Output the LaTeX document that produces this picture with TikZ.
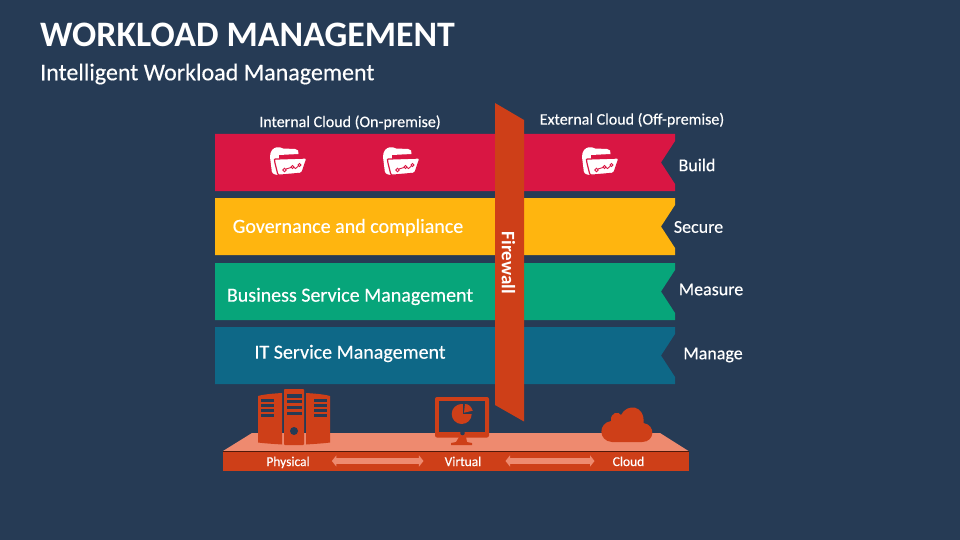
\documentclass[tikz,border=0pt]{standalone}
\usepackage{fontspec}
\setmainfont{Carlito}
\newfontfamily\semi[FakeBold=0.35]{Carlito}
\usetikzlibrary{arrows.meta}
\definecolor{bgc}{HTML}{263B55}
\definecolor{redc}{HTML}{D91643}
\definecolor{yelc}{HTML}{FFB50F}
\definecolor{grnc}{HTML}{07A57A}
\definecolor{bluc}{HTML}{0E6887}
\definecolor{orac}{HTML}{CE3F18}
\definecolor{salc}{HTML}{EE8A6F}
\tikzset{
  x=1pt,y=-1pt,
  lbl/.style={text=white,inner sep=0pt,font=\fontsize{#1}{#1}\selectfont\semi},
  blbl/.style={text=white,inner sep=0pt,font=\fontsize{#1}{#1}\selectfont\bfseries},
  link/.style={draw=salc,line width=5.4pt,{Triangle[width=11pt,length=4.5pt]}-{Triangle[width=11pt,length=4.5pt]}},
  pics/folder/.style={code={
    \fill[white] (0,10) .. controls (0,4) and (3,1) .. (6.7,0.3) .. controls (9,0) and (11,0.3) .. (13,1.5)
       -- (25,2) .. controls (28,2.3) and (29,4) .. (28.5,7) -- (9,8) -- (8,28) .. controls (3,27.5) and (1.5,26) .. (1.5,22) -- cycle;
    \draw[redc,line width=1.2pt,fill=white,rounded corners=1.5pt] (4.5,14) .. controls (4.5,12.5) and (5.5,12) .. (7,12) -- (37,11) -- (31.8,26.2) -- (8,28.3) -- cycle;
    \draw[redc,line width=0.9pt] (14.5,23) circle (1.7) (22.5,20) circle (1.5) (29.5,18) circle (1.6);
    \draw[redc,line width=0.9pt] (16,22) -- (21,20.5) (24,20.5) -- (25.5,21.5) -- (28.3,19.2);
  }}
}
\begin{document}
\begin{tikzpicture}
\useasboundingbox (0,0) rectangle (960,540);
\fill[bgc] (0,0) rectangle (960,540);
\node[blbl=35.8,anchor=west] (title) at (40,35) {WORKLOAD MANAGEMENT};
\node[lbl=24,anchor=west] (subtitle) at (40,74) {Intelligent Workload Management};
% ribbons
\fill[redc] (215,134) -- (675,134) -- (675,141) -- (661,162.5) -- (675,184) -- (675,191) -- (215,191) -- cycle;
\fill[yelc] (215,198) -- (675,198) -- (675,205) -- (661,226.5) -- (675,248) -- (675,255) -- (215,255) -- cycle;
\fill[grnc] (215,263) -- (675,263) -- (675,270) -- (661,291.5) -- (675,313) -- (675,320) -- (215,320) -- cycle;
\fill[bluc] (215,327) -- (675,327) -- (675,334) -- (661,355.5) -- (675,377) -- (675,384) -- (215,384) -- cycle;
% headings
\node[lbl=16] (internal) at (350,122.5) {Internal Cloud (On-premise)};
\node[lbl=16] (external) at (632,120) {External Cloud (Off-premise)};
% folders
\pic at (270,147) {folder};
\pic at (383,147) {folder};
\pic at (582,147) {folder};
% ribbon labels
\node[lbl=20] (gov) at (348,227.5) {Governance and compliance};
\node[lbl=20] (bsm) at (350,296.5) {Business Service Management};
\node[lbl=20] (itsm) at (350,353.5) {IT Service Management};
\node[lbl=18] (build) at (697,165) {Build};
\node[lbl=18] (secure) at (698.5,227) {Secure};
\node[lbl=18] (measure) at (711,289.5) {Measure};
\node[lbl=18] (manage) at (713,355) {Manage};
% firewall
\fill[orac] (495,103) -- (524,120) -- (524,421.5) -- (495,405) -- cycle;
\node[blbl=19,rotate=-90] (firewall) at (508.5,263) {Firewall};
% platform
\fill[salc] (252,433) -- (660,433) -- (688.5,451) -- (223,451) -- cycle;
\fill[orac] (223,451) rectangle (689,471);
\draw[black!60!orac,line width=0.8pt] (223,451) -- (689,451);
% servers
\fill[orac] (258,396) .. controls (265,394) and (275,393.5) .. (282,393) -- (282,444.5) .. controls (275,444) and (265,443.5) .. (258,442.5) -- cycle;
\fill[orac] (306,393) .. controls (313,393.5) and (323,394) .. (330,396) -- (330,442.5) .. controls (323,443.5) and (313,444) .. (306,444.5) -- cycle;
\fill[orac,rounded corners=0.8pt] (284,389) rectangle (304,445);
\foreach \y in {400,405,410,415}{
  \fill[bgc] (260.7,\y-1.4) rectangle (274,\y+1.5);
  \fill[bgc] (314,\y-1.4) rectangle (327,\y+1.5);
}
\foreach \y in {396,401.7,407.3,413.3}{\fill[bgc] (287,\y-1.7) rectangle (301.5,\y+1.7);}
\fill[bgc] (294,431) circle (4);
% monitor
\fill[orac,rounded corners=2pt] (435,397) rectangle (489,437.5);
\fill[bgc] (438.5,401) rectangle (485,431.5);
\fill[bgc] (462.5,433) circle (2.3);
\fill[orac] (459,437) -- (466,437) -- (467,442) -- (472,443) -- (472,445) -- (451,445) -- (451,443) -- (456,442) -- cycle;
\fill[orac] (461.7,414) circle (10);
\fill[bgc] (463,414) -- (463,402) -- (475,402) -- (475,414) -- cycle;
\fill[orac] (464,412.7) -- (465,404) .. controls (469,404) and (471.5,407) .. (472.7,410.7) -- cycle;
% cloud
\fill[orac] (612,442) .. controls (598,441) and (598,423) .. (611,421)
  .. controls (610,412) and (619,411) .. (621,415)
  .. controls (627,403) and (645,405) .. (643.5,423)
  .. controls (656,425) and (655,442) .. (642,442) -- cycle;
% platform labels and links
\node[lbl=13.5,anchor=base] (physical) at (288,466) {Physical};
\node[lbl=13.5,anchor=base] (virtual) at (463,466) {Virtual};
\node[lbl=13.5,anchor=base] (cloud) at (628.5,466) {Cloud};
\coordinate (pe) at (physical.east |- 0,461);
\coordinate (vw) at (virtual.west |- 0,461);
\coordinate (ve) at (virtual.east |- 0,461);
\coordinate (cw) at (cloud.west |- 0,461);
\draw[link,shorten <=22pt,shorten >=21pt] (pe) -- (vw);
\draw[link,shorten <=24pt,shorten >=18pt] (ve) -- (cw);
\end{tikzpicture}
\end{document}
